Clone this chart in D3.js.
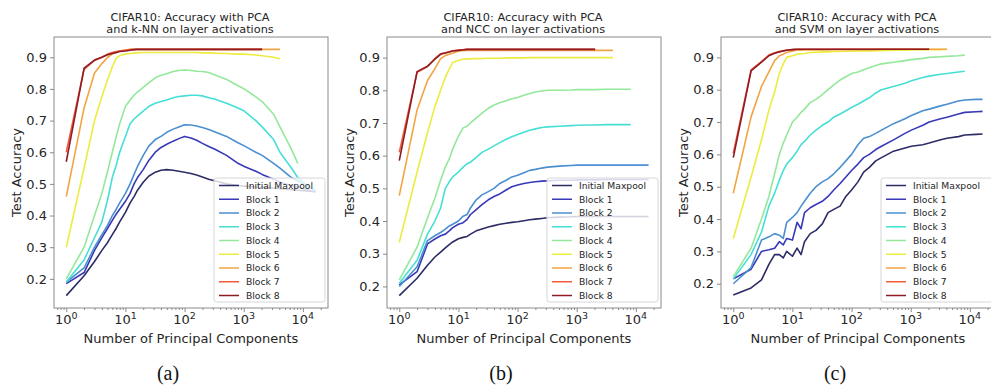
<!DOCTYPE html>
<html><head><meta charset="utf-8">
<script src="https://cdn.jsdelivr.net/npm/d3@7"></script>
<style>body{margin:0;background:#fff}svg{display:block}</style>
</head><body>
<svg id="chart" width="991" height="391"></svg>
<script>
const X = [1,2,3,4,5,6,7,8,10,12,14,16,20,25,32,40,50,64,80,100,128,160,200,256,320,512,800,1024,1600,2048,3200,4096,6400,8192,12800,16384];
const seriesNames = ["Initial Maxpool","Block 1","Block 2","Block 3","Block 4","Block 5","Block 6","Block 7","Block 8"];
const seriesColors = ["#2b2b66","#3838b8","#4a8fcf","#45dfd5","#93e89a","#ecec40","#f2a444","#f25a3a","#8e1c24"];
const panelTitles = [["CIFAR10: Accuracy with PCA","and k-NN on layer activations"],["CIFAR10: Accuracy with PCA","and NCC on layer activations"],["CIFAR10: Accuracy with PCA","and SVM on layer activations"]];
const captions = ["(a)","(b)","(c)"];
const yTicks = [0.2,0.3,0.4,0.5,0.6,0.7,0.8,0.9];
const xTicks = [1,10,100,1000,10000];
const xTickExp = ["0","1","2","3","4"];
const xLabel = "Number of Principal Components";
const yLabel = "Test Accuracy";
const xDomain = [0.62, 26600];
const yDomains = [[0.108,0.964],[0.134,0.963],[0.125,0.963]];

const knnValues = [
 [0.147,0.21,0.255,0.29,0.315,0.34,0.36,0.38,0.41,0.44,0.46,0.48,0.505,0.525,0.537,0.543,0.545,0.543,0.54,0.537,0.533,0.528,0.522,0.515,0.51,0.50,0.495,0.493,0.49,0.489,0.487,0.485,0.482,0.48,0.477,0.475],
 [0.185,0.22,0.29,0.33,0.36,0.385,0.405,0.42,0.445,0.47,0.50,0.52,0.545,0.575,0.60,0.615,0.625,0.635,0.643,0.65,0.645,0.638,0.628,0.618,0.61,0.59,0.565,0.555,0.54,0.53,0.515,0.505,0.495,0.49,0.48,0.475],
 [0.19,0.235,0.30,0.34,0.37,0.40,0.42,0.44,0.47,0.50,0.53,0.555,0.59,0.62,0.64,0.65,0.663,0.673,0.68,0.687,0.686,0.683,0.678,0.672,0.665,0.65,0.63,0.62,0.60,0.59,0.565,0.55,0.52,0.51,0.49,0.48],
 [0.19,0.26,0.33,0.38,0.45,0.52,0.56,0.60,0.65,0.69,0.705,0.715,0.73,0.745,0.755,0.76,0.765,0.772,0.776,0.778,0.78,0.78,0.778,0.772,0.768,0.755,0.74,0.73,0.70,0.68,0.64,0.60,0.55,0.52,0.49,0.48],
 [0.20,0.30,0.40,0.47,0.54,0.60,0.65,0.69,0.745,0.765,0.78,0.79,0.805,0.82,0.835,0.843,0.848,0.855,0.858,0.86,0.858,0.856,0.855,0.852,0.845,0.83,0.81,0.80,0.775,0.76,0.72,0.68,0.61,0.565],
 [0.30,0.55,0.70,0.775,0.83,0.87,0.897,0.905,0.91,0.912,0.913,0.914,0.915,0.915,0.915,0.915,0.915,0.915,0.915,0.915,0.915,0.915,0.914,0.914,0.913,0.912,0.91,0.91,0.907,0.905,0.90,0.895],
 [0.46,0.74,0.85,0.88,0.90,0.91,0.915,0.92,0.923,0.925,0.925,0.925,0.925,0.925,0.925,0.925,0.925,0.925,0.925,0.925,0.925,0.925,0.925,0.925,0.925,0.925,0.925,0.925,0.925,0.925,0.925,0.925],
 [0.60,0.862,0.89,0.90,0.91,0.915,0.918,0.92,0.922,0.924,0.925,0.925,0.925,0.925,0.925,0.925,0.925,0.925,0.925,0.925,0.925,0.925,0.925,0.925,0.925,0.925,0.925,0.925,0.925,0.925],
 [0.57,0.866,0.891,0.90,0.908,0.912,0.915,0.918,0.92,0.922,0.924,0.925,0.925,0.925,0.925,0.925,0.925,0.925,0.925,0.925,0.925,0.925,0.925,0.925,0.925,0.925,0.925,0.925,0.925,0.925]
];
const nccValues = [
 [0.172,0.225,0.265,0.29,0.305,0.318,0.328,0.336,0.346,0.35,0.353,0.36,0.37,0.376,0.382,0.386,0.39,0.393,0.396,0.398,0.401,0.404,0.406,0.408,0.41,0.412,0.413,0.414,0.414,0.414,0.414,0.414,0.414,0.414,0.414,0.414],
 [0.205,0.245,0.33,0.345,0.355,0.36,0.37,0.38,0.39,0.395,0.405,0.42,0.435,0.45,0.465,0.475,0.483,0.495,0.505,0.51,0.515,0.518,0.52,0.522,0.523,0.525,0.525,0.526,0.526,0.526,0.527,0.527,0.527,0.527,0.527,0.527],
 [0.20,0.26,0.34,0.355,0.365,0.375,0.385,0.39,0.40,0.415,0.42,0.44,0.465,0.48,0.49,0.50,0.515,0.525,0.535,0.54,0.548,0.555,0.558,0.562,0.565,0.568,0.57,0.571,0.571,0.571,0.571,0.571,0.571,0.571,0.571,0.571],
 [0.21,0.28,0.36,0.40,0.44,0.50,0.52,0.535,0.55,0.565,0.575,0.58,0.595,0.61,0.62,0.63,0.64,0.65,0.658,0.665,0.672,0.678,0.682,0.686,0.688,0.69,0.692,0.693,0.694,0.694,0.695,0.695,0.695,0.695],
 [0.22,0.32,0.41,0.47,0.525,0.565,0.59,0.62,0.66,0.685,0.69,0.70,0.715,0.73,0.745,0.755,0.762,0.768,0.774,0.778,0.785,0.79,0.795,0.798,0.80,0.80,0.801,0.802,0.802,0.802,0.803,0.803,0.803,0.803],
 [0.335,0.55,0.67,0.75,0.80,0.84,0.865,0.885,0.892,0.895,0.896,0.896,0.897,0.897,0.898,0.898,0.898,0.899,0.899,0.899,0.899,0.90,0.90,0.90,0.90,0.90,0.90,0.90,0.90,0.90,0.90,0.90],
 [0.478,0.74,0.83,0.866,0.897,0.906,0.91,0.913,0.92,0.921,0.922,0.922,0.922,0.922,0.922,0.922,0.922,0.922,0.922,0.922,0.922,0.922,0.922,0.922,0.922,0.922,0.922,0.922,0.922,0.922,0.922,0.922],
 [0.61,0.855,0.872,0.897,0.912,0.915,0.918,0.921,0.923,0.924,0.925,0.925,0.925,0.925,0.925,0.925,0.925,0.925,0.925,0.925,0.925,0.925,0.925,0.925,0.925,0.925,0.925,0.925,0.925,0.925],
 [0.585,0.857,0.874,0.895,0.91,0.914,0.917,0.92,0.922,0.924,0.925,0.925,0.925,0.925,0.925,0.925,0.925,0.925,0.925,0.925,0.925,0.925,0.925,0.925,0.925,0.925,0.925,0.925,0.925,0.925]
];
const svmValues = [
 [0.165,0.187,0.212,0.26,0.29,0.29,0.28,0.30,0.285,0.31,0.29,0.33,0.355,0.365,0.385,0.42,0.43,0.44,0.47,0.49,0.515,0.545,0.56,0.58,0.59,0.61,0.62,0.625,0.63,0.635,0.645,0.65,0.655,0.66,0.662,0.663],
 [0.215,0.245,0.30,0.305,0.31,0.33,0.32,0.34,0.335,0.39,0.37,0.42,0.435,0.445,0.455,0.47,0.49,0.51,0.53,0.55,0.57,0.59,0.60,0.615,0.625,0.645,0.665,0.675,0.69,0.70,0.71,0.715,0.725,0.73,0.732,0.733],
 [0.20,0.25,0.335,0.345,0.355,0.35,0.34,0.39,0.405,0.42,0.44,0.455,0.48,0.50,0.515,0.525,0.54,0.56,0.58,0.60,0.63,0.65,0.655,0.665,0.675,0.695,0.71,0.72,0.735,0.74,0.75,0.755,0.765,0.768,0.77,0.77],
 [0.215,0.29,0.36,0.44,0.48,0.52,0.55,0.57,0.59,0.61,0.63,0.64,0.66,0.675,0.69,0.70,0.715,0.725,0.735,0.745,0.755,0.765,0.775,0.79,0.80,0.81,0.82,0.828,0.838,0.842,0.848,0.85,0.855,0.857],
 [0.222,0.31,0.40,0.47,0.54,0.60,0.635,0.66,0.70,0.715,0.73,0.74,0.76,0.77,0.785,0.80,0.815,0.83,0.84,0.85,0.855,0.862,0.868,0.875,0.88,0.885,0.89,0.893,0.897,0.90,0.902,0.903,0.905,0.907],
 [0.34,0.53,0.645,0.737,0.793,0.85,0.88,0.90,0.905,0.91,0.911,0.912,0.915,0.916,0.917,0.917,0.918,0.918,0.919,0.919,0.92,0.92,0.92,0.921,0.921,0.922,0.922,0.923,0.923,0.924,0.924,0.925],
 [0.48,0.716,0.81,0.855,0.89,0.905,0.91,0.915,0.92,0.922,0.922,0.923,0.923,0.923,0.923,0.923,0.924,0.924,0.924,0.924,0.924,0.924,0.924,0.924,0.925,0.925,0.925,0.925,0.925,0.925,0.925,0.925],
 [0.603,0.861,0.887,0.907,0.914,0.918,0.92,0.923,0.924,0.925,0.925,0.925,0.925,0.925,0.925,0.925,0.925,0.925,0.925,0.925,0.925,0.925,0.925,0.925,0.925,0.925,0.925,0.925,0.925,0.925],
 [0.59,0.858,0.885,0.905,0.913,0.917,0.92,0.922,0.924,0.925,0.925,0.925,0.925,0.925,0.925,0.925,0.925,0.925,0.925,0.925,0.925,0.925,0.925,0.925,0.925,0.925,0.925,0.925,0.925,0.925]
];
const panelValues = [knnValues, nccValues, svmValues];

const svg = d3.select("#chart");
const panelLeft = [54, 387, 721];
const plotTop = 37, plotW = 274, plotH = 271;
const font = "DejaVu Sans, sans-serif";
const textColor = "#262626";
const spineColor = "#8a8a8a";

panelLeft.forEach((left, p) => {
  const g = svg.append("g").attr("transform", `translate(${left},${plotTop})`);
  const x = d3.scaleLog().domain(xDomain).range([0, plotW]);
  const y = d3.scaleLinear().domain(yDomains[p]).range([plotH, 0]);

  const line = d3.line().x((d, i) => x(X[i])).y(d => y(d));
  panelValues[p].forEach((vals, s) => {
    g.append("path").attr("d", line(vals)).attr("fill", "none")
      .attr("stroke", seriesColors[s]).attr("stroke-width", 1.6)
      .attr("stroke-linejoin", "round");
  });

  const ya = g.append("g").call(d3.axisLeft(y).tickValues(yTicks).tickFormat(d3.format(".1f")).tickSize(4).tickPadding(3));
  ya.select(".domain").remove();
  ya.selectAll("line").attr("stroke", spineColor);
  ya.selectAll("text").attr("font-family", font).attr("font-size", 13).attr("fill", textColor);

  const xa = g.append("g").attr("transform", `translate(0,${plotH})`)
    .call(d3.axisBottom(x).tickValues(xTicks).tickFormat("").tickSize(4));
  xa.select(".domain").remove();
  xa.selectAll("line").attr("stroke", spineColor);
  const minor = [];
  [0.1,1,10,100,1000,10000].forEach(dec => { for (let k = 2; k <= 9; k++) { const v = dec * k; if (v >= xDomain[0] && v <= xDomain[1]) minor.push(v); } });
  const xm = g.append("g").attr("transform", `translate(0,${plotH})`)
    .call(d3.axisBottom(x).tickValues(minor).tickFormat("").tickSize(2));
  xm.select(".domain").remove();
  xm.selectAll("line").attr("stroke", spineColor);
  xTicks.forEach((t, i) => {
    const txt = g.append("text").attr("x", x(t)).attr("y", plotH + 16)
      .attr("text-anchor", "middle").attr("font-family", font).attr("font-size", 13).attr("fill", textColor);
    txt.append("tspan").text("10");
    txt.append("tspan").attr("dy", -5).attr("font-size", 9.5).text(xTickExp[i]);
  });

  g.append("rect").attr("width", plotW).attr("height", plotH).attr("fill", "none")
    .attr("stroke", spineColor).attr("stroke-width", 1);

  g.append("text").attr("x", plotW / 2).attr("y", plotH + 35).attr("text-anchor", "middle")
    .attr("font-family", font).attr("font-size", 13).attr("fill", textColor).text(xLabel);
  g.append("text").attr("transform", `translate(-33,${plotH / 2}) rotate(-90)`).attr("text-anchor", "middle")
    .attr("font-family", font).attr("font-size", 13).attr("fill", textColor).text(yLabel);
  panelTitles[p].forEach((t, i) => {
    g.append("text").attr("x", plotW / 2 - 1).attr("y", -16.5 + i * 12.3).attr("text-anchor", "middle")
      .attr("font-family", font).attr("font-size", 11.3).attr("fill", textColor).text(t);
  });
  g.append("text").attr("x", plotW / 2 - 23).attr("y", 343).attr("text-anchor", "middle")
    .attr("font-family", "Liberation Serif, Times New Roman, serif").attr("font-size", 20).attr("fill", "#111").text(captions[p]);

  const lw = 111, lh = 124;
  const lg = g.append("g").attr("transform", `translate(${plotW - lw - 3},${plotH - lh - 6})`);
  lg.append("rect").attr("width", lw).attr("height", lh).attr("rx", 2.5)
    .attr("fill", "#fff").attr("fill-opacity", 0.8).attr("stroke", "#d6d6d6").attr("stroke-width", 1);
  seriesNames.forEach((n, s) => {
    const cy = 7.5 + s * 13.75;
    lg.append("line").attr("x1", 5).attr("x2", 25).attr("y1", cy).attr("y2", cy)
      .attr("stroke", seriesColors[s]).attr("stroke-width", 1.5);
    lg.append("text").attr("x", 32).attr("y", cy + 3.3).attr("font-family", font).attr("font-size", 9.2)
      .attr("fill", textColor).text(n);
  });
});
</script>
</body></html>
